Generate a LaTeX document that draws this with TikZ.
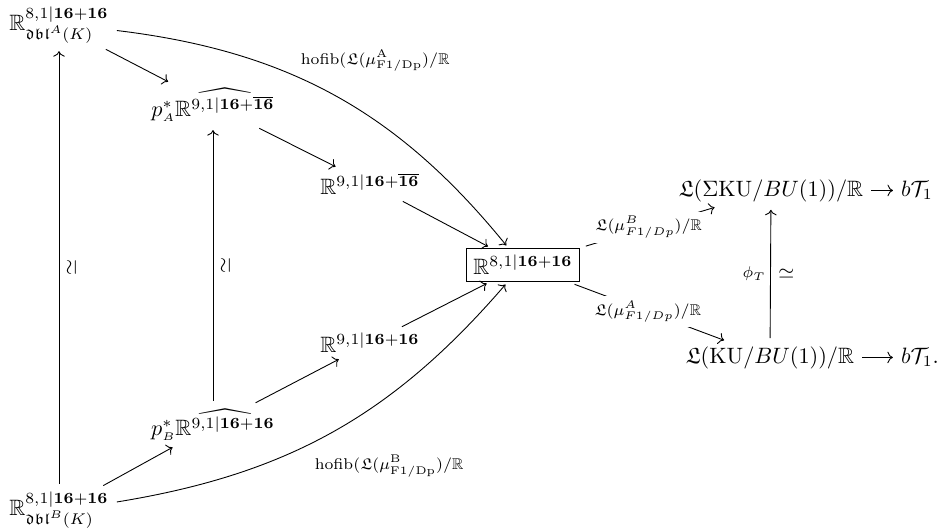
\documentclass[tikz,border=0pt]{standalone}
\usepackage{amsmath}
\usepackage{amssymb}
\usetikzlibrary{arrows.meta}

\begin{document}
\begin{tikzpicture}[x=0.45pt, y=0.45pt, >=To,
  obj/.style={inner sep=2pt},
  arr/.style={->, shorten <=1.5pt, shorten >=1.5pt},
  lbl/.style={font=\scriptsize, inner sep=2pt}]
\useasboundingbox (0,0) rectangle (949,531);
% left column and middle
\node[obj] (dblA) at (59,506) {$\mathbb{R}^{8,1|\mathbf{16+16}}_{\mathfrak{dbl}^{A}(K)}$};
\node[obj] (pA) at (213,426) {$p^*_{\scriptscriptstyle A}\widehat{\mathbb{R}^{9,1|\mathbf{16}+\overline{\mathbf{16}}}}$};
\node[obj] (R91bar) at (370,347) {$\mathbb{R}^{9,1|\mathbf{16}+\overline{\mathbf{16}}}$};
\node[obj, draw, inner sep=3pt] (box) at (523,266) {$\mathbb{R}^{8,1|\mathbf{16+16}}$};
\node[obj] (R91) at (370,188) {$\mathbb{R}^{9,1|\mathbf{16+16}}$};
\node[obj] (pB) at (213,106) {$p^*_{\scriptscriptstyle B}\widehat{\mathbb{R}^{9,1|\mathbf{16+16}}}$};
\node[obj] (dblB) at (59,21) {$\mathbb{R}^{8,1|\mathbf{16+16}}_{\mathfrak{dbl}^{B}(K)}$};
% right part
\node[obj, anchor=base] (LSKU) at (771,335) {$\mathfrak{L}(\Sigma\mathrm{KU}/BU(1))/\mathbb{R}$};
\node[obj, anchor=base] (bTa) at (917,335) {$b\mathcal{T}_1$};
\node[obj, anchor=base] (LKU) at (770,168) {$\mathfrak{L}(\mathrm{KU}/BU(1))/\mathbb{R}$};
\node[obj, anchor=base] (bTb) at (920,168) {$b\mathcal{T}_1.$};

% arrows
\draw[arr] (dblA) -- (pA);
\draw[arr] (pA) -- (R91bar);
\draw[arr] (R91bar) -- (box);
\draw[arr] (dblB) -- (pB);
\draw[arr] (pB) -- (R91);
\draw[arr] (R91) -- (box);
\draw[arr] (dblB) -- node[midway, below, sloped, font=\small] {$\simeq$} (dblA);
\draw[arr] (pB) -- node[midway, below, sloped, font=\small] {$\simeq$} (pA);
\draw[arr] (dblA) to[bend left=22] node[pos=0.4, anchor=south west, lbl] {$\mathrm{hofib}(\mathfrak{L}(\mu^{\mathrm{A}}_{\mathrm{F1/Dp}})/\mathbb{R}$} (box);
\draw[arr] (dblB) to[bend right=20] node[pos=0.44, anchor=north west, yshift=-3pt, lbl] {$\mathrm{hofib}(\mathfrak{L}(\mu^{\mathrm{B}}_{\mathrm{F1/Dp}})/\mathbb{R}$} (box);
\draw[arr, shorten <=3pt] (box) -- node[midway, lbl, fill=white] {$\mathfrak{L}(\mu^{B}_{F1/Dp})/\mathbb{R}$} (LSKU);
\draw[arr, shorten <=3pt] (box) -- node[midway, lbl, fill=white] {$\mathfrak{L}(\mu^{A}_{F1/Dp})/\mathbb{R}$} (LKU);
\draw[arr] (LKU) -- node[midway, left, lbl] {$\phi_T$} node[midway, right, font=\small] {$\simeq$} (LSKU);
\draw[arr] (LSKU.east) -- (LSKU.east -| bTa.west);
\draw[arr] (LKU.east) -- (LKU.east -| bTb.west);
\end{tikzpicture}
\end{document}
